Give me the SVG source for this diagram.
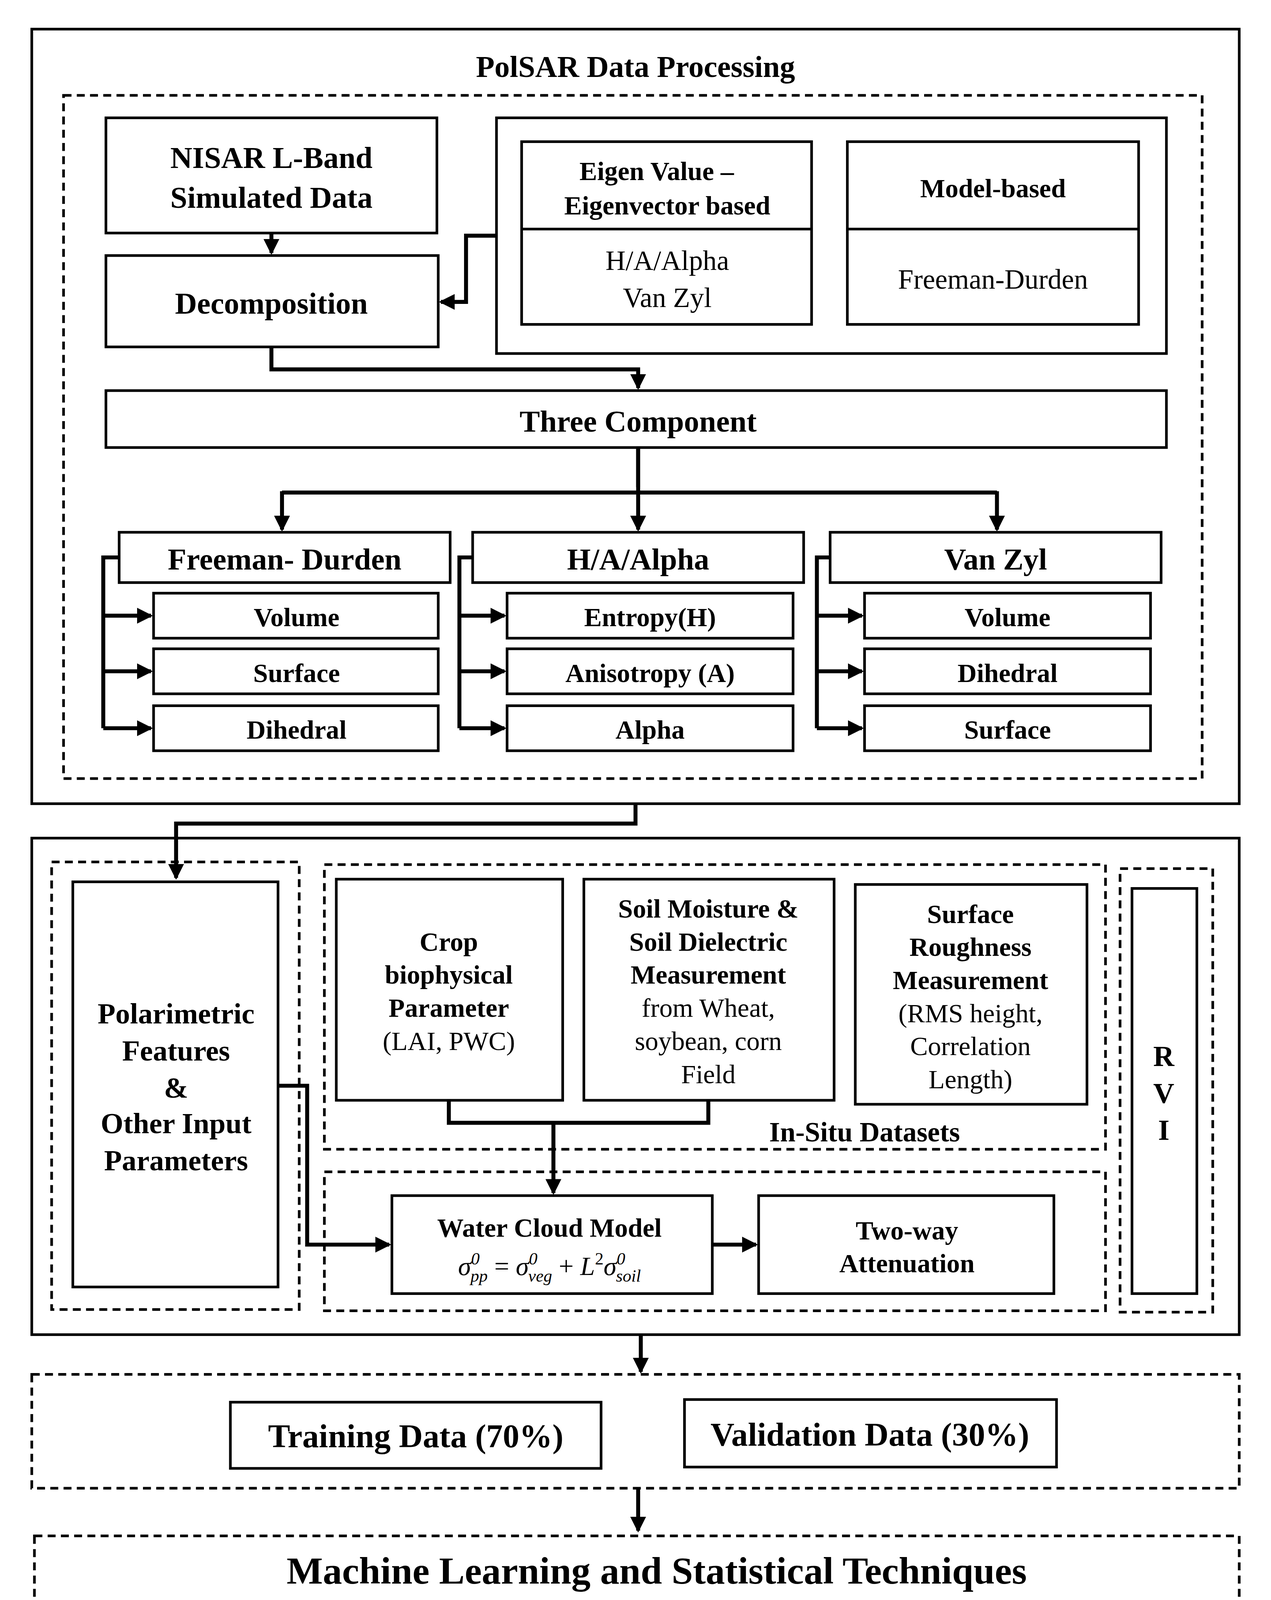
<svg xmlns="http://www.w3.org/2000/svg" width="3254" height="5346" viewBox="0 0 3254 5346">
<style>
text{font-family:"Liberation Serif","Times New Roman",serif;fill:#000;text-anchor:middle}
.b{font-weight:bold}
.s{fill:#fff;stroke:#000;stroke-width:2}
.d{fill:none;stroke:#000;stroke-width:2;stroke-dasharray:6 4}
.c{fill:none;stroke:#000;stroke-width:3}
.l{text-anchor:start;font-size:16px}
</style>
<defs><marker id="a" markerWidth="4" markerHeight="4" refX="3.5" refY="2" orient="auto" markerUnits="strokeWidth"><path d="M0,0L4,2L0,4z" fill="#000"/></marker></defs>
<rect width="3254" height="5346" fill="#fff"/>
<g transform="scale(3.3896)">
<g id="polsar"><rect class="s" x="24" y="22" width="912" height="585"/><text class="b" x="480" y="58" font-size="23">PolSAR Data Processing</text><rect class="d" x="48" y="72" width="860" height="516"/></g>
<g id="nisar"><rect class="s" x="80" y="89" width="250" height="87"/><text class="b" x="205" y="127" font-size="23">NISAR L-Band</text><text class="b" x="205" y="157" font-size="23">Simulated Data</text></g>
<g id="decomp"><rect class="s" x="80" y="193" width="251" height="69"/><text class="b" x="205" y="237" font-size="23">Decomposition</text></g>
<g id="methods"><rect class="s" x="375" y="89" width="506" height="178"/>
<rect class="s" x="394" y="107" width="219" height="138"/><line x1="394" y1="173" x2="613" y2="173" stroke="#000" stroke-width="2"/>
<text class="b" x="496" y="136" font-size="20">Eigen Value –</text><text class="b" x="504" y="162" font-size="20">Eigenvector based</text>
<text x="504" y="204" font-size="21">H/A/Alpha</text><text x="504" y="232" font-size="21">Van Zyl</text>
<rect class="s" x="640" y="107" width="220" height="138"/><line x1="640" y1="173" x2="860" y2="173" stroke="#000" stroke-width="2"/>
<text class="b" x="750" y="149" font-size="20">Model-based</text><text x="750" y="218" font-size="21">Freeman-Durden</text></g>
<g id="three"><rect class="s" x="80" y="295" width="801" height="43"/><text class="b" x="482" y="326" font-size="23">Three Component</text></g>
<g id="fd"><rect class="s" x="90" y="402" width="250" height="38"/><text class="b" x="215" y="430" font-size="23">Freeman- Durden</text>
<rect class="s" x="116" y="448" width="215" height="34"/><text class="b" x="224" y="473" font-size="20">Volume</text>
<rect class="s" x="116" y="490" width="215" height="34"/><text class="b" x="224" y="515" font-size="20">Surface</text>
<rect class="s" x="116" y="533" width="215" height="34"/><text class="b" x="224" y="558" font-size="20">Dihedral</text></g>
<g id="haa"><rect class="s" x="357" y="402" width="250" height="38"/><text class="b" x="482" y="430" font-size="23">H/A/Alpha</text>
<rect class="s" x="383" y="448" width="216" height="34"/><text class="b" x="491" y="473" font-size="20">Entropy(H)</text>
<rect class="s" x="383" y="490" width="216" height="34"/><text class="b" x="491" y="515" font-size="20">Anisotropy (A)</text>
<rect class="s" x="383" y="533" width="216" height="34"/><text class="b" x="491" y="558" font-size="20">Alpha</text></g>
<g id="vz"><rect class="s" x="627" y="402" width="250" height="38"/><text class="b" x="752" y="430" font-size="23">Van Zyl</text>
<rect class="s" x="653" y="448" width="216" height="34"/><text class="b" x="761" y="473" font-size="20">Volume</text>
<rect class="s" x="653" y="490" width="216" height="34"/><text class="b" x="761" y="515" font-size="20">Dihedral</text>
<rect class="s" x="653" y="533" width="216" height="34"/><text class="b" x="761" y="558" font-size="20">Surface</text></g>
<g id="inputs"><rect class="s" x="24" y="633" width="912" height="375"/><rect class="d" x="39" y="651" width="187" height="338"/><rect class="s" x="55" y="666" width="155" height="306"/>
<text class="b" x="133" y="773" font-size="22">Polarimetric</text><text class="b" x="133" y="801" font-size="22">Features</text><text class="b" x="133" y="829" font-size="22">&amp;</text><text class="b" x="133" y="856" font-size="22">Other Input</text><text class="b" x="133" y="884" font-size="22">Parameters</text></g>
<g id="insitu"><rect class="d" x="245" y="653" width="590" height="215"/><text class="b" x="653" y="862" font-size="21">In-Situ Datasets</text>
<rect class="s" x="254" y="664" width="171" height="167"/><text class="b" x="339" y="718" font-size="20">Crop</text><text class="b" x="339" y="743" font-size="20">biophysical</text><text class="b" x="339" y="768" font-size="20">Parameter</text><text x="339" y="793" font-size="20">(LAI, PWC)</text>
<rect class="s" x="441" y="664" width="189" height="167"/><text class="b" x="535" y="693" font-size="20">Soil Moisture &amp;</text><text class="b" x="535" y="718" font-size="20">Soil Dielectric</text><text class="b" x="535" y="743" font-size="20">Measurement</text><text x="535" y="768" font-size="20">from Wheat,</text><text x="535" y="793" font-size="20">soybean, corn</text><text x="535" y="818" font-size="20">Field</text>
<rect class="s" x="646" y="668" width="175" height="166"/><text class="b" x="733" y="697" font-size="20">Surface</text><text class="b" x="733" y="722" font-size="20">Roughness</text><text class="b" x="733" y="747" font-size="20">Measurement</text><text x="733" y="772" font-size="20">(RMS height,</text><text x="733" y="797" font-size="20">Correlation</text><text x="733" y="822" font-size="20">Length)</text></g>
<g id="wcm"><rect class="d" x="245" y="885" width="590" height="105"/>
<rect class="s" x="296" y="903" width="242" height="74"/><text class="b" x="415" y="934" font-size="20">Water Cloud Model</text>
<text x="415" y="963" font-size="20" font-style="italic">σ<tspan font-size="13" dy="-8">0</tspan><tspan font-size="13" dx="-7" dy="13">pp</tspan><tspan dy="-5" font-style="normal"> = </tspan>σ<tspan font-size="13" dy="-8">0</tspan><tspan font-size="13" dx="-7" dy="13">veg</tspan><tspan dy="-5" font-style="normal"> + </tspan>L<tspan font-size="13" dy="-8" font-style="normal">2</tspan><tspan dy="8">σ</tspan><tspan font-size="13" dy="-8">0</tspan><tspan font-size="13" dx="-7" dy="13">soil</tspan></text>
<rect class="s" x="573" y="903" width="223" height="74"/><text class="b" x="685" y="936" font-size="20">Two-way</text><text class="b" x="685" y="961" font-size="20">Attenuation</text></g>
<g id="rvi"><rect class="d" x="846" y="656" width="70" height="335"/><rect class="s" x="855" y="671" width="49" height="306"/><text class="b" x="879" y="805" font-size="22">R</text><text class="b" x="879" y="833" font-size="22">V</text><text class="b" x="879" y="861" font-size="22">I</text></g>
<g id="split"><rect class="d" x="24" y="1038" width="912" height="86"/>
<rect class="s" x="174" y="1059" width="280" height="50"/><text class="b" x="314" y="1093" font-size="25">Training Data (70%)</text>
<rect class="s" x="517" y="1057" width="281" height="51"/><text class="b" x="657" y="1092" font-size="25">Validation Data (30%)</text></g>
<g id="ml"><rect class="d" x="26" y="1160" width="910" height="213"/><text class="b" x="496" y="1196" font-size="29">Machine Learning and Statistical Techniques</text>
<g stroke-width="3"><rect class="s" x="84" y="1222" width="172" height="59" stroke-width="3"/><rect class="s" x="269" y="1222" width="173" height="59" stroke-width="3"/><rect class="s" x="472" y="1222" width="173" height="58" stroke-width="3"/><rect class="s" x="676" y="1223" width="173" height="59" stroke-width="3"/><rect class="s" x="192" y="1298" width="172" height="59" stroke-width="3"/><rect class="s" x="392" y="1298" width="174" height="59" stroke-width="3"/><rect class="s" x="594" y="1298" width="173" height="59" stroke-width="3"/></g>
<text class="b" x="170" y="1262" font-size="29">MLR</text><text class="b" x="355" y="1262" font-size="29">RFR</text><text class="b" x="558" y="1261" font-size="29">XGB</text><text class="b" x="762" y="1263" font-size="29">DTR</text><text class="b" x="278" y="1338" font-size="29">SGD</text><text class="b" x="479" y="1338" font-size="29">KNN</text><text class="b" x="680" y="1338" font-size="29">NN</text></g>
<g id="est"><rect class="d" x="26" y="1405" width="910" height="51"/><text class="b" x="468" y="1440" font-size="29">Soil Moisture &amp; Dielectric Constant Estimation</text></g>
<g id="legend">
<text class="l" x="38" y="1525"><tspan font-weight="bold">RFR:</tspan> Random Forest Regression</text>
<text class="l" x="38" y="1547"><tspan font-weight="bold">DTR:</tspan> Decision Tree Regression</text>
<text class="l" x="302" y="1527"><tspan font-weight="bold">XGB :</tspan>Extreme Gradient Boosting</text>
<text class="l" x="302" y="1549"><tspan font-weight="bold">SGD:</tspan> Stochastic gradient descent</text>
<text class="l" x="568" y="1527"><tspan font-weight="bold">KNN :</tspan> K-Nearest Neighbor</text>
<text class="l" x="568" y="1549"><tspan font-weight="bold">MLR:</tspan> Multi-Linear Regression</text>
<text class="l" x="795" y="1525"><tspan font-weight="bold">NN:</tspan> Neural Network</text></g>
<g id="connectors" class="c">
<path class="c" d="M205,176V191" marker-end="url(#a)"/>
<path class="c" d="M375,178H352V228H333" marker-end="url(#a)"/>
<path class="c" d="M205,262V279H482V293" marker-end="url(#a)"/>
<path class="c" d="M482,338V368"/>
<path class="c" d="M213,372H753"/>
<path class="c" d="M213,371V400" marker-end="url(#a)"/><path class="c" d="M482,338V400" marker-end="url(#a)"/><path class="c" d="M753,371V400" marker-end="url(#a)"/>
<path class="c" d="M90,421H78V550"/><path class="c" d="M78,465H114" marker-end="url(#a)"/><path class="c" d="M78,507H114" marker-end="url(#a)"/><path class="c" d="M78,550H114" marker-end="url(#a)"/>
<path class="c" d="M357,421H347V550"/><path class="c" d="M347,465H381" marker-end="url(#a)"/><path class="c" d="M347,507H381" marker-end="url(#a)"/><path class="c" d="M347,550H381" marker-end="url(#a)"/>
<path class="c" d="M627,421H617V550"/><path class="c" d="M617,465H651" marker-end="url(#a)"/><path class="c" d="M617,507H651" marker-end="url(#a)"/><path class="c" d="M617,550H651" marker-end="url(#a)"/>
<path class="c" d="M480,607V622H133V663" marker-end="url(#a)"/>
<path class="c" d="M339,831V848H535V831"/>
<path class="c" d="M418,848V901" marker-end="url(#a)"/>
<path class="c" d="M210,820H232V940H294" marker-end="url(#a)"/>
<path class="c" d="M538,940H571" marker-end="url(#a)"/>
<path class="c" d="M484,1008V1036" marker-end="url(#a)"/>
<path class="c" d="M482,1124V1156" marker-end="url(#a)"/>
<path class="c" d="M482,1373V1402" marker-end="url(#a)"/>
</g>
</g>
</svg>
